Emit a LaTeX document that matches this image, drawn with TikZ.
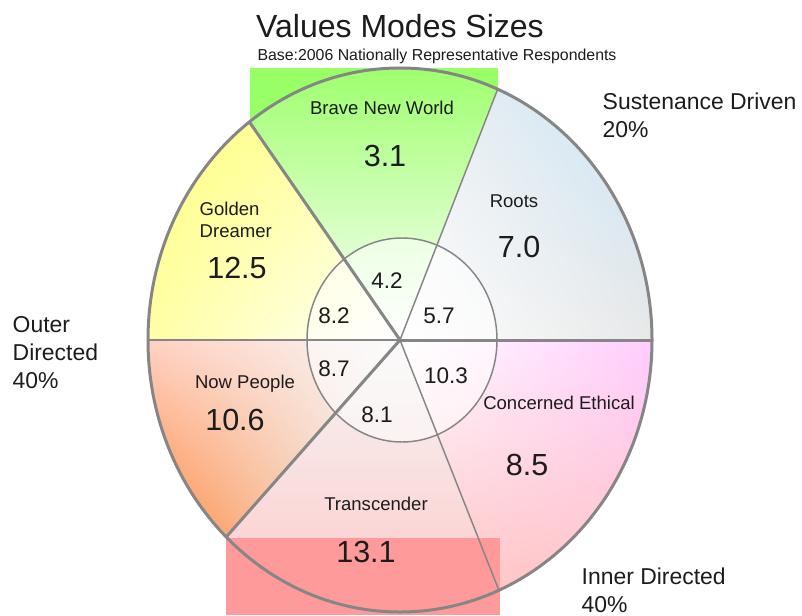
\documentclass[tikz,border=0pt]{standalone}
\usepackage{fontspec}
\setmainfont{Liberation Sans}
\usetikzlibrary{shadings}

\definecolor{rim}{HTML}{868686}
\definecolor{ink}{HTML}{1C1C1C}
\definecolor{bnwgreen}{HTML}{99FF66}
\definecolor{bnwpale}{HTML}{CCFFC8}
\definecolor{gdyellow}{HTML}{FFFF80}
\definecolor{skyblue}{HTML}{C8E4F6}
\definecolor{nporange}{HTML}{FF8A40}
\definecolor{nppink}{HTML}{FFD2C4}
\definecolor{cemauve}{HTML}{FFCCFF}
\definecolor{tcpink}{HTML}{FFC6C6}
\definecolor{tcdark}{HTML}{FF9A9A}

% sector of the big ellipse, from angle #1 to angle #2
\newcommand{\vmsector}[2]{(c) -- +(#1:252 and 272) arc[start angle=#1, end angle=#2, x radius=252, y radius=272] -- cycle}

\begin{document}
\begin{tikzpicture}[x=0.75pt,y=0.75pt,
  lbl/.style={anchor=base,text=ink,font=\fontsize{13.9}{16}\selectfont},
  bignum/.style={anchor=base,text=ink,font=\fontsize{22.9}{26}\selectfont},
  core/.style={anchor=base,text=ink,font=\fontsize{16.9}{20}\selectfont},
  grouplbl/.style={anchor=base west,align=left,text=ink,font=\fontsize{17.2}{21}\selectfont},
  rimline/.style={draw=rim,line width=2.25pt},
  thinline/.style={draw=rim,line width=1.1pt}]

\useasboundingbox (0,0) rectangle (802,615);
\fill[white] (0,0) rectangle (802,615);

\coordinate (c) at (400,275);
\path (c) ++(67.2:252 and 272) coordinate (ur);
\path (c) ++(126.7:252 and 272) coordinate (ul);
\path (c) ++(180:252 and 272) coordinate (l);
\path (c) ++(226.4:252 and 272) coordinate (ll);
\path (c) ++(293.1:252 and 272) coordinate (lr);
\path (c) ++(0:252 and 272) coordinate (r);

%green band behind brave new world
\fill[bnwgreen] (250,547) rectangle (498,485);

%sectors
\shade[upper left=gray!12, upper right=skyblue, lower left=white, lower right=gray!18] \vmsector{0}{67.2};
\shade[top color=bnwgreen, middle color=bnwpale, bottom color=white] \vmsector{67.2}{126.7};
\shade[upper left=gdyellow, upper right=yellow!30, lower left=yellow!35, lower right=white] \vmsector{126.7}{180};
\shade[upper left=nppink, upper right=gray!6, lower left=nporange, lower right=gray!12] \vmsector{180}{226.4};
\shade[top color=gray!8, middle color=tcpink, bottom color=tcpink] \vmsector{226.4}{293.1};
\shade[upper left=white, upper right=cemauve, lower left=tcpink, lower right=tcpink] \vmsector{293.1}{360};

%pink band under transcender
\fill[tcdark] (226,0) rectangle (500,77);

%inner ring
\path[thinline, fill=white, fill opacity=0.5] (402,275) ellipse [x radius=95, y radius=102];

%dividers
\path[thinline] (c) -- (ur);
\path[rimline] (c) -- (ul);
\path[thinline] (c) -- (l);
\path[rimline] (c) -- (ll);
\path[thinline] (c) -- (lr);
\path[rimline] (c) -- (r);
\path[rimline] (c) ellipse [x radius=252, y radius=272];

%titles
\node[anchor=base,text=ink,font=\fontsize{24}{27}\selectfont] (title) at (400,577) {Values Modes Sizes};
\node[anchor=base,text=ink,font=\fontsize{11.9}{14}\selectfont] (base) at (437,554) {Base:2006 Nationally Representative Respondents};

%segments
\node[lbl] (bnw) at (382,500) {Brave New World};
\node[bignum] (bnwv) at (385,448) {3.1};
\node[lbl,anchor=base west,align=left] (gd) at (195,378) {Golden\\Dreamer};
\node[bignum] (gdv) at (237,337) {12.5};
\node[lbl] (roots) at (514,407) {Roots};
\node[bignum] (rootsv) at (519,358) {7.0};
\node[lbl] (np) at (245,227) {Now People};
\node[bignum] (npv) at (235,185) {10.6};
\node[lbl] (ce) at (559,206) {Concerned Ethical};
\node[bignum] (cev) at (527,140) {8.5};
\node[lbl] (tc) at (376,105) {Transcender};
\node[bignum] (tcv) at (366,53) {13.1};

%inner values
\node[core] (i1) at (387,327) {4.2};
\node[core] (i2) at (334,292) {8.2};
\node[core] (i3) at (439,292) {5.7};
\node[core] (i4) at (334,239) {8.7};
\node[core] (i5) at (446,232) {10.3};
\node[core] (i6) at (377,193) {8.1};

%groups
\node[grouplbl] (sd) at (598,477) {Sustenance Driven\\20\%};
\node[grouplbl] (od) at (8,227) {Outer\\Directed\\40\%};
\node[grouplbl] (id) at (577,3) {Inner Directed\\40\%};

\end{tikzpicture}
\end{document}
